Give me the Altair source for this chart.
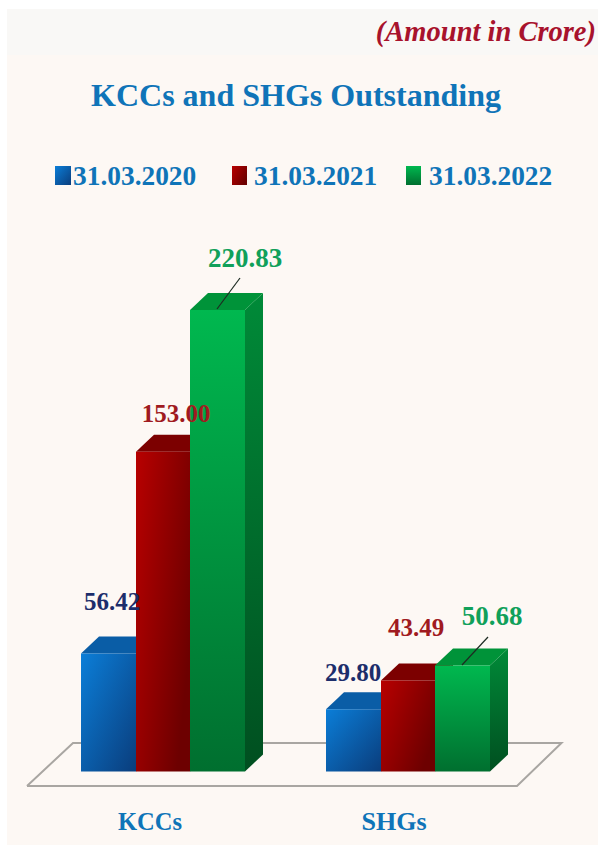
import altair as alt
import pandas as pd

# Values in crore at each year end
categories = ["KCCs", "SHGs"]
series_names = ["31.03.2020", "31.03.2021", "31.03.2022"]
kcc_values = [56.42, 153.00, 220.83]
shg_values = [29.80, 43.49, 50.68]

W, H = 598, 845
PX_PER_UNIT = 2.09
BASE_PX = 771.5
DEPTH_X = 18
DEPTH_Y = 17 / PX_PER_UNIT
BAR_W = [55, 54, 55]
GROUP_START = {"KCCs": 81, "SHGs": 326}

LABEL_CENTRE = {"KCCs": [112, 176, 245], "SHGs": [353, 416, 492]}
LABEL_BASE = {"KCCs": [610, 422, 267], "SHGs": [681, 636, 625]}
LABEL_SIZE = [25, 25, 27]

FRONT = [
    ("#0b7ed8", "#0a3d7c", 0, 0, 1, 1),
    ("#b80000", "#6d0000", 0, 0, 1, 0.6),
    ("#00b84f", "#006f2f", 0, 0, 0, 1),
]
SIDE = [("#0a5ea8", "#063566"), ("#840000", "#4e0000"), ("#008a38", "#004f20")]
TOP = ["#0a5da6", "#7c0000", "#009339"]
LABEL_COLORS = ["#1c2d6b", "#a01a20", "#10a05a"]
INK_BLUE = "#0f74b8"


def gradient(c0, c1, x1, y1, x2, y2):
    return alt.Gradient(
        gradient="linear", x1=x1, y1=y1, x2=x2, y2=y2,
        stops=[alt.GradientStop(color=c0, offset=0), alt.GradientStop(color=c1, offset=1)],
    )


x_scale = alt.Scale(domain=[0, W], range=[0, W], nice=False, zero=False)
y_scale = alt.Scale(
    domain=[(BASE_PX - H) / PX_PER_UNIT, BASE_PX / PX_PER_UNIT],
    range=[H, 0], nice=False, zero=False,
)
X = lambda f: alt.X(f, type="quantitative", scale=x_scale, axis=None)
Y = lambda f: alt.Y(f, type="quantitative", scale=y_scale, axis=None)
Yb = lambda f: alt.Y2(f)

# Canvas: pale paper with a lighter strip behind the unit note
canvas = alt.Chart(pd.DataFrame({"i": [0]})).mark_rect(color="#fdf8f4").encode(
    x=alt.value(7), x2=alt.value(W), y=alt.value(55), y2=alt.value(H)
)
strip = alt.Chart(pd.DataFrame({"i": [0]})).mark_rect(color="#f9f8f6").encode(
    x=alt.value(7), x2=alt.value(W), y=alt.value(9), y2=alt.value(55)
)

# Floor of the 3D scene
floor_df = pd.DataFrame({
    "x": [27, 73, 561.5, 517, 27],
    "y": [(BASE_PX - p) / PX_PER_UNIT for p in [786, 743, 743, 786, 786]],
    "o": range(5),
})
floor = alt.Chart(floor_df).mark_line(color="#a9a6a2", strokeWidth=2).encode(
    x=X("x"), y=Y("y"), order="o:Q"
)

layers = [canvas, strip, floor]

for s, name in enumerate(series_names):
    rows, side_rows, top_rows = [], [], []
    for cat, vals in zip(categories, [kcc_values, shg_values]):
        x0 = GROUP_START[cat] + sum(BAR_W[:s])
        x1 = x0 + BAR_W[s]
        v = vals[s]
        rows.append({"x0": x0, "x1": x1, "v": v, "b": 0})
        side_rows += [
            {"k": cat, "x": x1, "lo": 0, "hi": v},
            {"k": cat, "x": x1 + DEPTH_X, "lo": DEPTH_Y, "hi": v + DEPTH_Y},
        ]
        top_rows += [
            {"k": cat, "x": x0, "lo": v, "hi": v},
            {"k": cat, "x": x0 + DEPTH_X, "lo": v, "hi": v + DEPTH_Y},
            {"k": cat, "x": x1, "lo": v, "hi": v + DEPTH_Y},
            {"k": cat, "x": x1 + DEPTH_X, "lo": v + DEPTH_Y, "hi": v + DEPTH_Y},
        ]
    side = alt.Chart(pd.DataFrame(side_rows)).mark_area(
        color=gradient(*SIDE[s], 0, 0, 0, 1)
    ).encode(x=X("x"), y=Y("hi"), y2=Yb("lo"), detail="k:N")
    top = alt.Chart(pd.DataFrame(top_rows)).mark_area(color=TOP[s]).encode(
        x=X("x"), y=Y("hi"), y2=Yb("lo"), detail="k:N"
    )
    front = alt.Chart(pd.DataFrame(rows)).mark_rect(color=gradient(*FRONT[s])).encode(
        x=X("x0"), x2=alt.X2("x1"), y=Y("v"), y2=Yb("b")
    )
    layers += [side, top, front]

# Leader lines from the green bars up to their labels
leaders = alt.Chart(pd.DataFrame({
    "x": [217, 462], "x2": [240, 488],
    "y": [(BASE_PX - 309) / PX_PER_UNIT, (BASE_PX - 665) / PX_PER_UNIT],
    "y2": [(BASE_PX - 278) / PX_PER_UNIT, (BASE_PX - 637) / PX_PER_UNIT],
})).mark_rule(color="#1d2b22", strokeWidth=1.2).encode(
    x=X("x"), x2=alt.X2("x2"), y=Y("y"), y2=Yb("y2")
)
layers.append(leaders)

# Value labels
for s in range(3):
    label_rows = []
    for cat, vals in zip(categories, [kcc_values, shg_values]):
        label_rows.append({
            "x": LABEL_CENTRE[cat][s],
            "y": (BASE_PX - LABEL_BASE[cat][s]) / PX_PER_UNIT,
            "v": vals[s],
        })
    layers.append(
        alt.Chart(pd.DataFrame(label_rows)).mark_text(
            font="Liberation Serif", fontWeight="bold", fontSize=LABEL_SIZE[s],
            baseline="alphabetic", align="center", color=LABEL_COLORS[s],
        ).encode(x=X("x"), y=Y("y"), text=alt.Text("v:Q", format=".2f"))
    )


def caption(text, x, y, size, color, align="center", style="normal"):
    return alt.Chart(pd.DataFrame({"t": [text]})).mark_text(
        font="Liberation Serif", fontWeight="bold", fontStyle=style, fontSize=size,
        baseline="alphabetic", align=align, color=color,
    ).encode(x=alt.value(x), y=alt.value(y), text="t:N")


layers += [
    caption("(Amount in Crore)", 596, 41, 28.5, "#a8122c", align="right", style="italic"),
    caption("KCCs and SHGs Outstanding", 296, 106, 32, INK_BLUE),
    caption("KCCs", 150, 830, 24.5, INK_BLUE),
    caption("SHGs", 394, 830, 26, INK_BLUE),
]

# Hand-placed key above the bars
key_x = [(55, 71, 73), (232, 247, 254), (406, 421, 429)]
for s, name in enumerate(series_names):
    x0, x1, tx = key_x[s]
    layers.append(
        alt.Chart(pd.DataFrame({"i": [0]})).mark_rect(color=gradient(*FRONT[s])).encode(
            x=alt.value(x0), x2=alt.value(x1), y=alt.value(166), y2=alt.value(185)
        )
    )
    layers.append(caption(name, tx, 185, 27.4, INK_BLUE, align="left"))

chart = alt.layer(*layers).properties(
    width=W, height=H, padding=0, background="white",
    autosize=alt.AutoSizeParams(type="none"),
).configure_view(stroke=None)

chart.save("out.html", embed_options={"renderer": "svg", "actions": False})
